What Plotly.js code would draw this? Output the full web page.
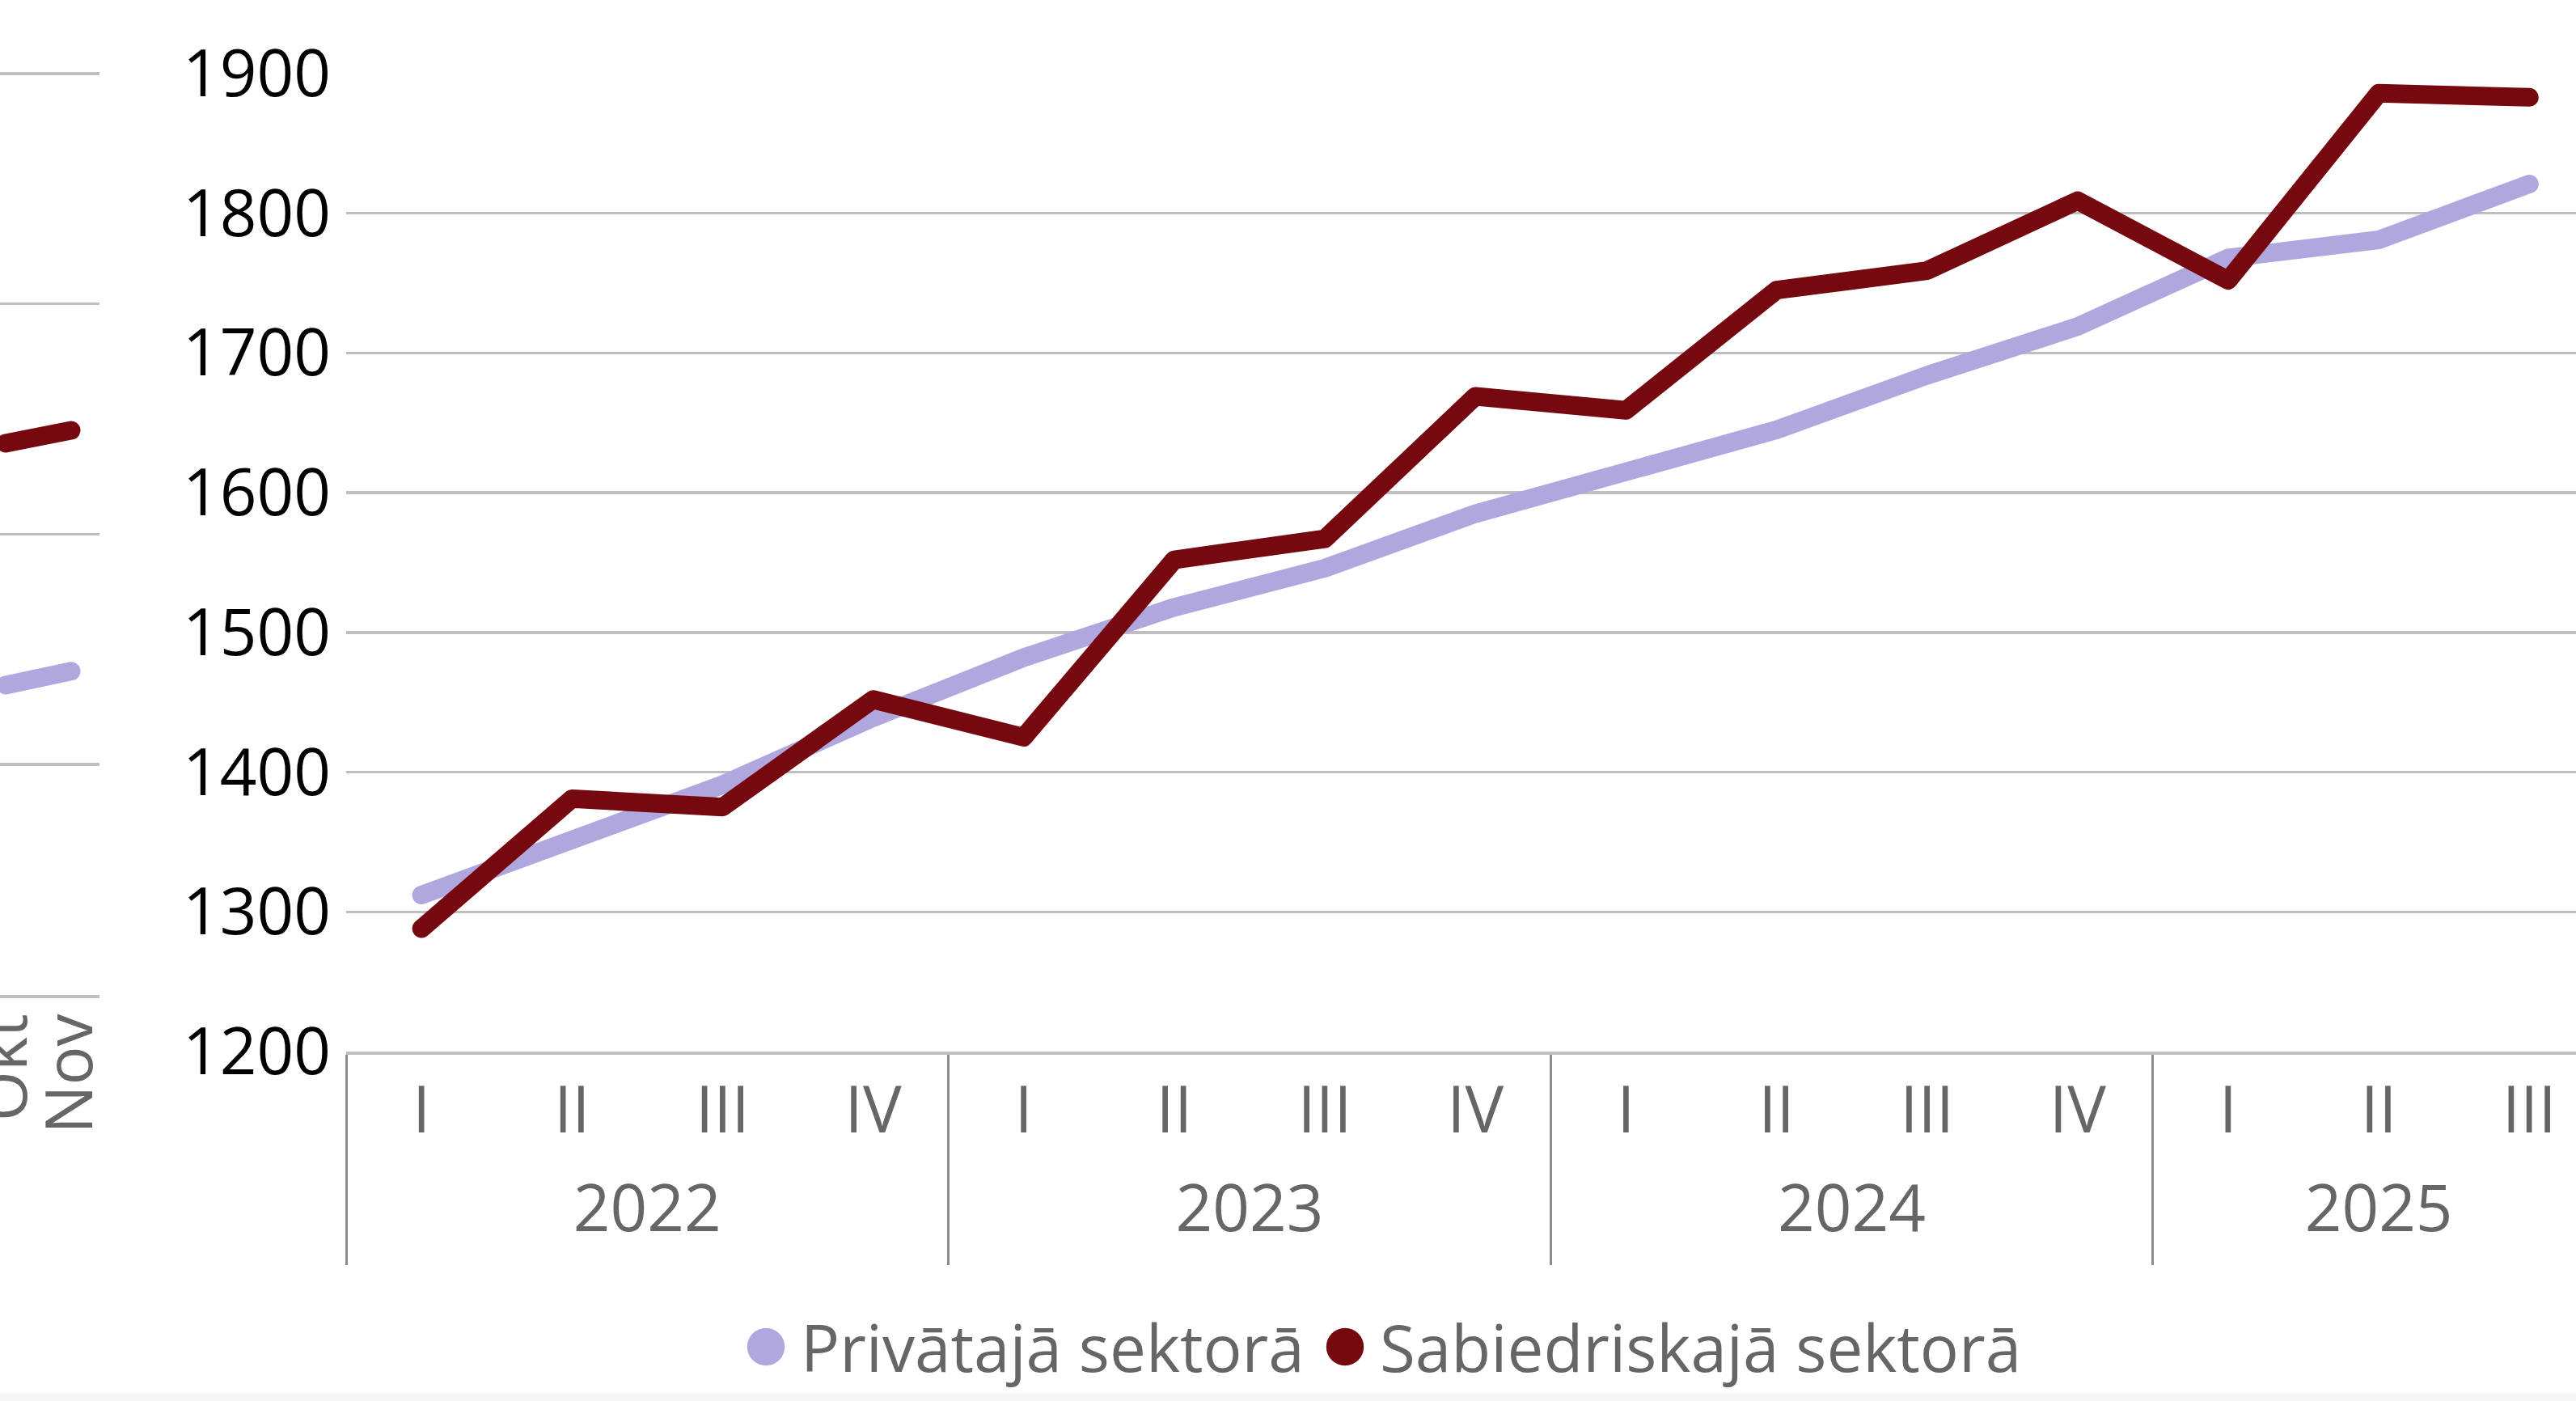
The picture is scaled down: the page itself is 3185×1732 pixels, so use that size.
<!DOCTYPE html>
<html>
<head>
<meta charset="utf-8">
<script src="https://cdn.plot.ly/plotly-3.0.1.min.js"></script>
<style>
html,body{margin:0;padding:0;background:#fff;overflow:hidden}
#chart{width:3185px;height:1732px}
.js-line{stroke-linecap:round;stroke-linejoin:round}
</style>
</head>
<body>
<div id="chart"></div>
<script>
// ---- data ----
const yearLabels = ['2022','2022','2022','2022','2023','2023','2023','2023','2024','2024','2024','2024','2025','2025','2025'];
const quarterLabels = ['I','II','III','IV','I','II','III','IV','I','II','III','IV','I','II','III'];
const privateSector = [1312,1353,1391,1439,1482,1518,1546,1585,1614,1645,1684,1719,1768,1781,1821];
const publicSector  = [1288,1381,1375,1452,1425,1552,1567,1669,1659,1745,1759,1809,1752,1886,1883];
const leftMonths = ['Okt','Nov'];
const leftPrivate = [1.345,1.405];
const leftPublic  = [2.395,2.451];
const seriesNames = ['Privātajā sektorā','Sabiedriskajā sektorā'];
const seriesColors = ['#B0A7DE','#76080F'];

// ---- category positions derived from the label arrays ----
const qIndex = quarterLabels.map((_, i) => i);
const years = [...new Set(yearLabels)];
const yearCenters = years.map(y => {
  const idx = qIndex.filter(i => yearLabels[i] === y);
  return idx.reduce((a, b) => a + b, 0) / idx.length;
});
const yearBounds = years.map(y => yearLabels.indexOf(y) - 0.5);

// ---- layout helpers ----
const W = 3185, H = 1732;
const px = v => v / W;
const py = v => 1 - v / H;
const FONT = '"Segoe UI", "Open Sans", "Noto Sans", sans-serif';
const GRID = '#bfbfbf';
const TXT = '#666666';
const LW = 23;
const GW = 3.5;
const XR = [-0.5001, 14.31];

const traces = [
  {x:qIndex, y:privateSector, name:seriesNames[0], type:'scatter', mode:'lines',
   line:{color:seriesColors[0], width:LW}, xaxis:'x', yaxis:'y', showlegend:false, hoverinfo:'skip'},
  {x:qIndex, y:publicSector, name:seriesNames[1], type:'scatter', mode:'lines',
   line:{color:seriesColors[1], width:LW}, xaxis:'x', yaxis:'y', showlegend:false, hoverinfo:'skip'},
  // carrier for the year row of the category axis (no visible marks)
  {x:yearCenters, y:yearCenters.map(() => null), type:'scatter', mode:'lines',
   xaxis:'x3', yaxis:'y', showlegend:false, hoverinfo:'skip', line:{width:0}},
  {x:leftMonths, y:leftPrivate, name:seriesNames[0], type:'scatter', mode:'lines',
   line:{color:seriesColors[0], width:LW}, xaxis:'x2', yaxis:'y2', showlegend:false, hoverinfo:'skip'},
  {x:leftMonths, y:leftPublic, name:seriesNames[1], type:'scatter', mode:'lines',
   line:{color:seriesColors[1], width:LW}, xaxis:'x2', yaxis:'y2', showlegend:false, hoverinfo:'skip'},
  {x:[null], y:[null], name:seriesNames[0], type:'scatter', mode:'markers', legendwidth:625,
   marker:{color:seriesColors[0], size:16}, xaxis:'x2', yaxis:'y2', showlegend:true},
  {x:[null], y:[null], name:seriesNames[1], type:'scatter', mode:'markers', legendwidth:820,
   marker:{color:seriesColors[1], size:16}, xaxis:'x2', yaxis:'y2', showlegend:true}
];

const layout = {
  width: W, height: H,
  margin: {l:0, r:0, t:0, b:0, pad:0},
  paper_bgcolor: '#ffffff', plot_bgcolor: 'rgba(0,0,0,0)',
  font: {family: FONT, size: 80, color: TXT},
  xaxis: {
    type:'linear', domain:[px(428), 1], range:XR, anchor:'y',
    showgrid:false, zeroline:false, showline:true, linecolor:GRID, linewidth:GW,
    tickmode:'array', tickvals:qIndex, ticktext:quarterLabels,
    ticks:'', tickfont:{family:FONT, size:80, color:TXT},
    minor:{tickmode:'array', tickvals:yearBounds, ticks:'outside', ticklen:260, tickwidth:3, tickcolor:'#8c8c8c', showgrid:false},
    fixedrange:true
  },
  xaxis3: {
    type:'linear', overlaying:'x', anchor:'y', side:'bottom', range:XR,
    showgrid:false, zeroline:false, showline:false, ticks:'',
    tickmode:'array', tickvals:yearCenters, ticktext:years, ticklabelstandoff:141,
    tickfont:{family:FONT, size:80, color:TXT}, fixedrange:true
  },
  yaxis: {
    domain:[py(1300), py(91)], range:[1200, 1900], tick0:1200, dtick:100, anchor:'x',
    showgrid:true, gridcolor:GRID, gridwidth:GW, zeroline:false, showline:false,
    ticks:'', ticklabelstandoff:18, tickfont:{family:FONT, size:80, color:'#000000'}, fixedrange:true
  },
  xaxis2: {
    type:'category', domain:[0, px(123)], range:[-0.086, 1.432], anchor:'y2',
    showgrid:false, zeroline:false, showline:true, linecolor:GRID, linewidth:GW,
    tickmode:'array', tickvals:leftMonths, ticktext:leftMonths,
    ticks:'', tickangle:-90, ticklabelstandoff:-12, tickfont:{family:FONT, size:80, color:TXT}, fixedrange:true
  },
  yaxis2: {
    domain:[py(1230), py(88)], range:[0, 4.01], tick0:0, dtick:1, anchor:'x2',
    showgrid:true, gridcolor:GRID, gridwidth:GW, zeroline:false, showline:false,
    showticklabels:false, ticks:'', fixedrange:true
  },
  legend: {
    orientation:'h', x:px(904), xanchor:'left', y:py(1665), yanchor:'middle',
    font:{family:FONT, size:80, color:TXT}, itemwidth:76, entrywidthmode:'pixels',
    bgcolor:'rgba(0,0,0,0)', borderwidth:0
  },
  shapes: [
    {type:'rect', xref:'paper', yref:'paper', x0:0, x1:1, y0:0, y1:10/H, fillcolor:'#f6f6f6', line:{width:0}, layer:'below'}
  ],
  showlegend: true
};

Plotly.newPlot('chart', traces, layout, {staticPlot:true, displayModeBar:false}).then(gd => {
  gd.querySelectorAll('.legend .legendpoints path.scatterpts').forEach(p => {
    const t = p.getAttribute('transform') || '';
    p.setAttribute('transform', t + ' scale(2.9)');
  });
});
</script>
</body>
</html>
